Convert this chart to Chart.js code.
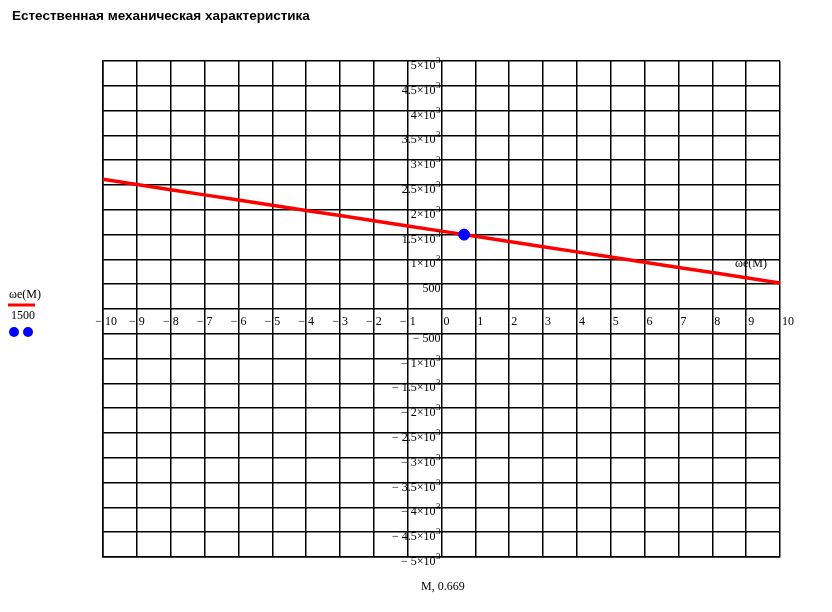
<!DOCTYPE html>
<html>
<head>
<meta charset="utf-8">
<script src="https://cdn.jsdelivr.net/npm/chart.js@4/dist/chart.umd.min.js"></script>
<style>
html,body{margin:0;padding:0;background:#fff;}
#wrap{position:relative;width:832px;height:612px;}
</style>
</head>
<body>
<div id="wrap"><canvas id="c" width="832" height="612"></canvas></div>
<script>
// ---- data ----
const titleText = "Естественная механическая характеристика";
const mValues = [-10, -9, -8, -7, -6, -5, -4, -3, -2, -1, 0, 1, 2, 3, 4, 5, 6, 7, 8, 9, 10];
const omegaValues = [2615, 2510, 2406, 2301, 2197, 2092, 1988, 1883, 1779, 1674, 1570, 1465, 1361, 1256, 1152, 1047, 943, 838, 734, 629, 525];
const pointM = [0.669];
const pointOmega = [1500];
const xTickValues = [-10, -9, -8, -7, -6, -5, -4, -3, -2, -1, 0, 1, 2, 3, 4, 5, 6, 7, 8, 9, 10];
const xTickLabels = ["10", "9", "8", "7", "6", "5", "4", "3", "2", "1", "0", "1", "2", "3", "4", "5", "6", "7", "8", "9", "10"];
const yTickValues = [5000, 4500, 4000, 3500, 3000, 2500, 2000, 1500, 1000, 500, -500, -1000, -1500, -2000, -2500, -3000, -3500, -4000, -4500, -5000];
const yTickMantissa = ["5", "4.5", "4", "3.5", "3", "2.5", "2", "1.5", "1", "500", "500", "1", "1.5", "2", "2.5", "3", "3.5", "4", "4.5", "5"];
const yTickHasExp = [true, true, true, true, true, true, true, true, true, false, false, true, true, true, true, true, true, true, true, true];
const legendSeriesName = "ωe(M)";
const legendPointName = "1500";
const xAxisName = "M, 0.669";

const SERIF = '"Liberation Serif", "Times New Roman", serif';
const SANS = '"Liberation Sans", Arial, sans-serif';

const textPlugin = {
  id: 'mathcadText',
  afterDraw(chart) {
    const ctx = chart.ctx;
    const xs = chart.scales.x, ys = chart.scales.y;
    const x0 = xs.getPixelForValue(0);
    const y0 = ys.getPixelForValue(0);
    ctx.save();
    // title
    ctx.fillStyle = '#000';
    ctx.font = 'bold 13.5px ' + SANS;
    ctx.textAlign = 'left';
    ctx.textBaseline = 'alphabetic';
    ctx.fillText(titleText, 12, 20);

    // x tick labels
    ctx.font = '12px ' + SERIF;
    xTickValues.forEach((v, i) => {
      const px = xs.getPixelForValue(v);
      const by = y0 + 16;
      ctx.textAlign = 'left';
      ctx.fillText(xTickLabels[i], px + 2, by);
      if (v < 0) {
        ctx.textAlign = 'right';
        ctx.fillText('−', px - 1, by);
      }
    });

    // y tick labels
    yTickValues.forEach((v, i) => {
      const py = ys.getPixelForValue(v);
      const by = py + 8;
      let right = x0 - 1;
      ctx.textAlign = 'right';
      if (yTickHasExp[i]) {
        ctx.font = '9px ' + SERIF;
        ctx.fillText('3', right, by - 6);
        right -= 5;
      }
      ctx.font = '12px ' + SERIF;
      const main = yTickHasExp[i] ? yTickMantissa[i] + '×10' : yTickMantissa[i];
      ctx.fillText(main, right, by);
      if (v < 0) {
        const w = ctx.measureText(main).width;
        ctx.fillText('−', right - w - 3, by);
      }
    });

    // series label near line end
    ctx.font = '12px ' + SERIF;
    ctx.textAlign = 'left';
    ctx.fillText(legendSeriesName, 735, 267);

    // left legend
    ctx.fillText(legendSeriesName, 9, 298);
    ctx.strokeStyle = '#ff0000';
    ctx.lineWidth = 3;
    ctx.beginPath();
    ctx.moveTo(8, 305);
    ctx.lineTo(35, 305);
    ctx.stroke();
    ctx.fillText(legendPointName, 11, 319);
    ctx.fillStyle = '#0000ff';
    [14, 28].forEach(cx => {
      ctx.beginPath();
      ctx.arc(cx, 332, 5, 0, Math.PI * 2);
      ctx.fill();
    });

    // x axis name
    ctx.fillStyle = '#000';
    ctx.textAlign = 'left';
    ctx.fillText(xAxisName, 421, 590);
    ctx.restore();
  }
};

new Chart(document.getElementById('c'), {
  type: 'scatter',
  data: {
    datasets: [
      {
        label: legendSeriesName,
        data: mValues.map((m, i) => ({x: m, y: omegaValues[i]})),
        showLine: true,
        borderColor: '#ff0000',
        borderWidth: 3.5,
        pointRadius: 0,
        fill: false,
        order: 2
      },
      {
        label: legendPointName,
        data: pointM.map((m, i) => ({x: m, y: pointOmega[i]})),
        showLine: false,
        backgroundColor: '#0000ff',
        borderColor: '#0000ff',
        pointRadius: 5.5,
        order: 1
      }
    ]
  },
  options: {
    responsive: false,
    animation: false,
    devicePixelRatio: 1,
    layout: {padding: {left: 103, right: 52, top: 61, bottom: 55}},
    plugins: {legend: {display: false}, title: {display: false}, tooltip: {enabled: false}},
    scales: {
      x: {
        type: 'linear', min: -10, max: 10,
        ticks: {display: false, stepSize: 1},
        grid: {color: '#000', lineWidth: 1.5, drawTicks: false},
        border: {display: true, color: '#000', width: 1.5}
      },
      y: {
        type: 'linear', min: -5000, max: 5000,
        ticks: {display: false, stepSize: 500},
        grid: {color: '#000', lineWidth: 1.5, drawTicks: false},
        border: {display: true, color: '#000', width: 1.5}
      }
    }
  },
  plugins: [textPlugin]
});
</script>
</body>
</html>
